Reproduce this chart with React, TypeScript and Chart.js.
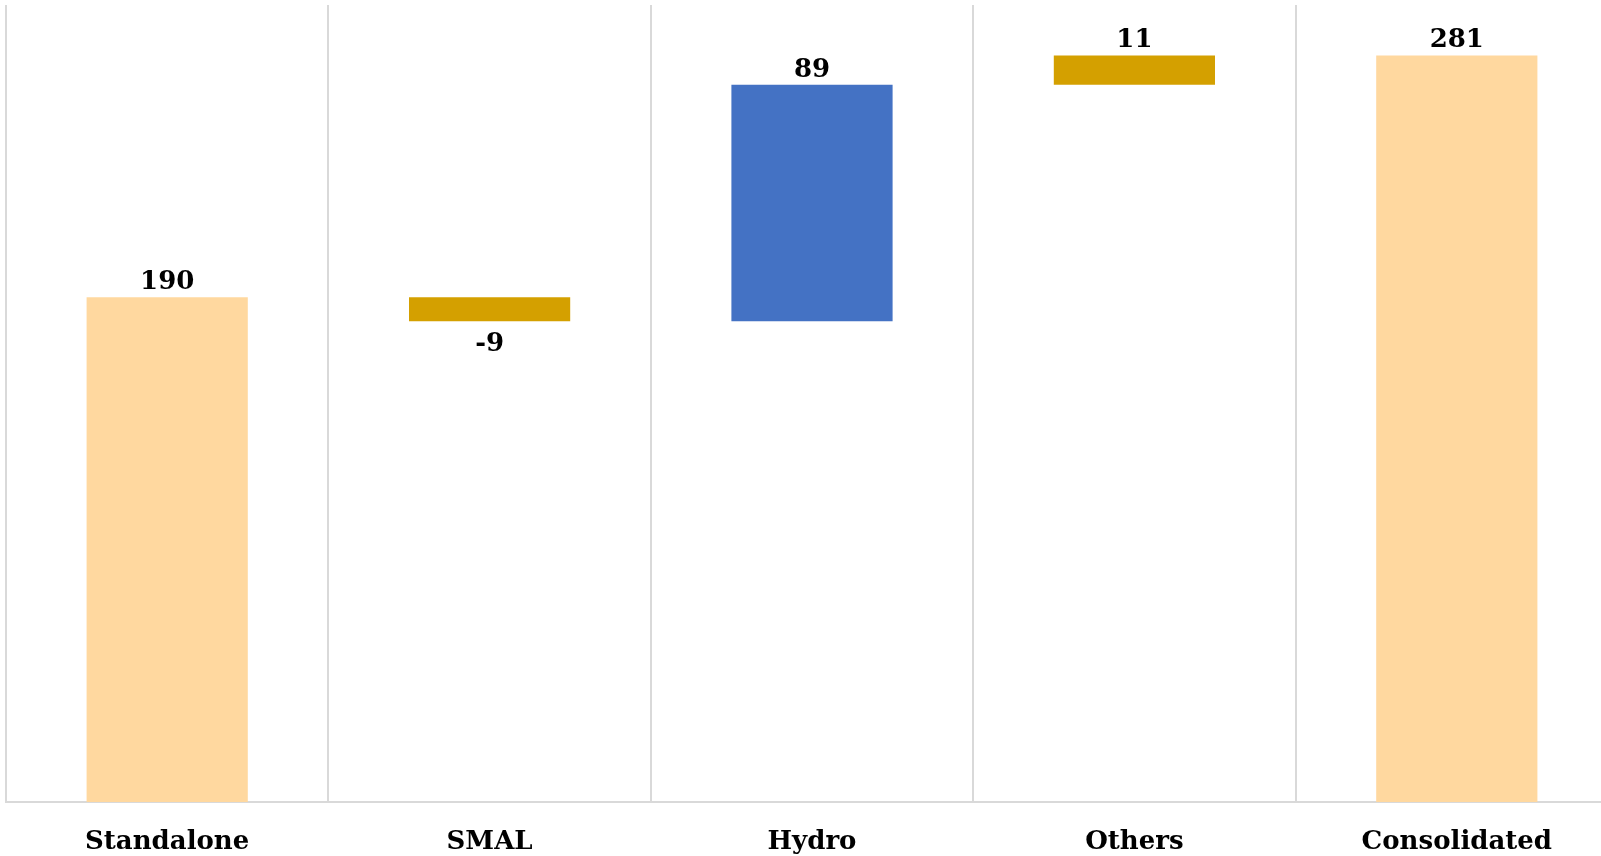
import React, { useEffect, useRef } from "react";
import { Chart, registerables } from "chart.js";

Chart.register(...registerables);

const categories = ["Standalone", "SMAL", "Hydro", "Others", "Consolidated"];
const changes = [190, -9, 89, 11, 281];
const isTotal = [true, false, false, false, true];
const colors = ["#FFD89F", "#D4A000", "#4472C4", "#D4A000", "#FFD89F"];

function buildRanges(): [number, number][] {
  const out: [number, number][] = [];
  let running = 0;
  changes.forEach((v, i) => {
    if (isTotal[i]) {
      out.push([0, v]);
      running = v;
    } else {
      const start = running;
      running = running + v;
      out.push([Math.min(start, running), Math.max(start, running)]);
    }
  });
  return out;
}

const FONT = '"DejaVu Serif", serif';
const W = 1620;
const H = 856;

const labelPlugin = {
  id: "wfLabels",
  afterDatasetsDraw(chart: any) {
    const ctx = chart.ctx;
    const meta = chart.getDatasetMeta(0);
    ctx.save();
    ctx.font = `bold 26px ${FONT}`;
    ctx.fillStyle = "#000000";
    ctx.textAlign = "center";
    ctx.textBaseline = "alphabetic";
    meta.data.forEach((bar: any, i: number) => {
      const v = changes[i];
      const top = Math.min(bar.y, bar.base);
      const bottom = Math.max(bar.y, bar.base);
      if (v < 0) {
        ctx.fillText(String(v), bar.x, bottom + 30);
      } else {
        ctx.fillText(String(v), bar.x, top - 8);
      }
    });
    ctx.restore();
  },
};

export default function App() {
  const ref = useRef<HTMLCanvasElement>(null);
  useEffect(() => {
    document.body.style.margin = "0";
    if (!ref.current) return;
    const chart = new Chart(ref.current, {
      type: "bar",
      data: {
        labels: categories,
        datasets: [
          {
            data: buildRanges() as any,
            backgroundColor: colors,
            borderWidth: 0,
            barPercentage: 0.5,
            categoryPercentage: 1,
          },
        ],
      },
      options: {
        animation: false,
        responsive: false,
        maintainAspectRatio: false,
        devicePixelRatio: 1,
        layout: { padding: { top: 5, left: 6, right: 2, bottom: 2 } },
        plugins: {
          legend: { display: false },
          tooltip: { enabled: false },
        },
        scales: {
          x: {
            grid: {
              display: true,
              offset: true,
              drawTicks: false,
              color: "#D9D9D9",
              lineWidth: 2,
            },
            border: { display: true, color: "#D9D9D9", width: 2 },
            ticks: {
              padding: 25,
              color: "#000000",
              font: { family: FONT, size: 26, weight: "bold" },
            },
            afterFit: (s: any) => {
              s.height = 52;
            },
          },
          y: {
            display: false,
            min: 0,
            max: 300,
          },
        },
      },
      plugins: [labelPlugin],
    });
    return () => chart.destroy();
  }, []);
  return (
    <div style={{ position: "absolute", left: 0, top: 0, width: 1601, height: H, overflow: "hidden", background: "#fff" }}>
      <canvas ref={ref} width={W} height={H} style={{ display: "block", width: W, height: H }} />
    </div>
  );
}
